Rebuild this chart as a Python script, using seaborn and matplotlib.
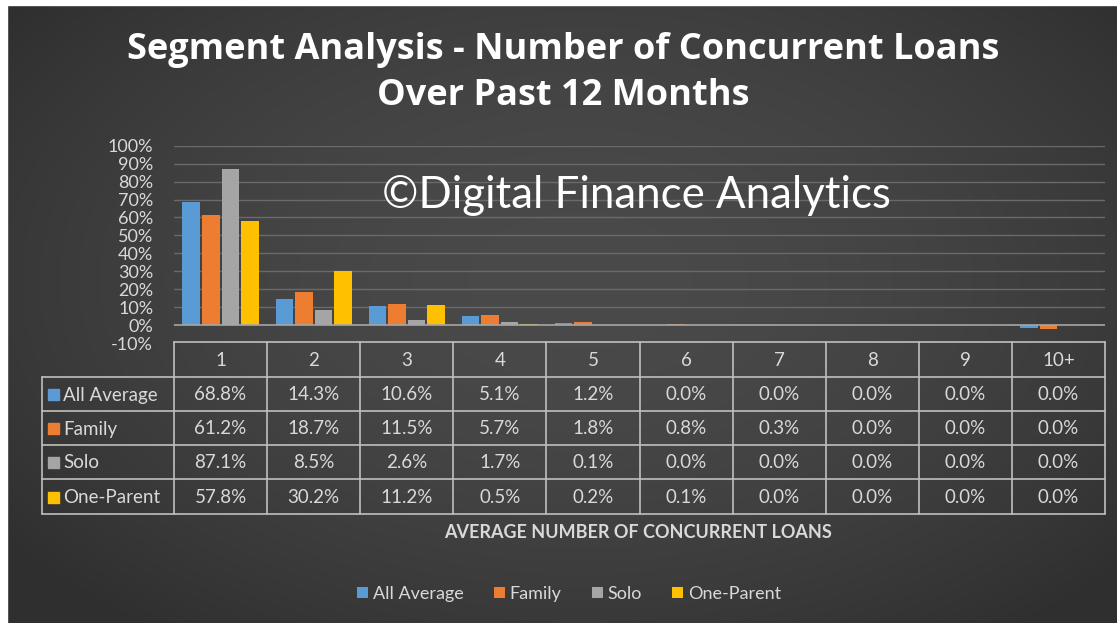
import numpy as np
import pandas as pd
import matplotlib
matplotlib.use("Agg")
import matplotlib.pyplot as plt
import seaborn as sns
from matplotlib.patches import Rectangle

# ---------------- data ----------------
categories = ["1", "2", "3", "4", "5", "6", "7", "8", "9", "10+"]
series = ["All Average", "Family", "Solo", "One-Parent"]
all_average = [0.688, 0.143, 0.106, 0.051, 0.012, 0.000, 0.000, 0.000, 0.000, -0.015]
family      = [0.612, 0.187, 0.115, 0.057, 0.018, 0.008, 0.003, 0.000, 0.000, -0.020]
solo        = [0.871, 0.085, 0.026, 0.017, 0.001, 0.000, 0.000, 0.000, 0.000, 0.000]
one_parent  = [0.578, 0.302, 0.112, 0.005, 0.002, 0.001, 0.000, 0.000, 0.000, 0.000]
colors = ["#5B9BD5", "#ED7D31", "#A5A5A5", "#FFC000"]
y_ticks = [-0.1, 0.0, 0.1, 0.2, 0.3, 0.4, 0.5, 0.6, 0.7, 0.8, 0.9, 1.0]

title = "Segment Analysis - Number of Concurrent Loans\nOver Past 12 Months"
watermark = "©Digital Finance Analytics"
x_title = "AVERAGE NUMBER OF CONCURRENT LOANS"

values = [all_average, family, solo, one_parent]
df = pd.DataFrame({
    "cat": np.tile(categories, len(series)),
    "series": np.repeat(series, len(categories)),
    "value": np.concatenate(values),
})

W, H = 1117, 623
FONT = "Lato"
TXT = "#d9d9d9"

sns.set_theme(style="dark")
plt.rcParams["font.family"] = [FONT, "DejaVu Sans"]

fig = plt.figure(figsize=(W / 100, H / 100), dpi=100)

# background radial gradient
bg = fig.add_axes([0, 0, 1, 1], zorder=0)
yy, xx = np.mgrid[0:H, 0:W]
r = np.sqrt(((xx - 580) / 720.0) ** 2 + ((yy - 280) / 440.0) ** 2)
r = np.clip(r, 0, 1)
g = 0.29 - 0.105 * r ** 1.8
bg.imshow(np.dstack([g, g, g]), extent=(0, W, H, 0), aspect="auto")
bg.add_patch(Rectangle((0, 0), 7, H, color="white"))
bg.add_patch(Rectangle((0, 0), W, 5, color="white"))
bg.set_xlim(0, W); bg.set_ylim(H, 0); bg.axis("off")

# main bar axes
L, R = 174, 1105
T, B = 145.7, 343
ax = fig.add_axes([L / W, 1 - B / H, (R - L) / W, (B - T) / H], zorder=1)
ax.set_facecolor("none")
sns.barplot(data=df, x="cat", y="value", hue="series", hue_order=series,
            order=categories, palette=colors, saturation=1, width=0.84, gap=0.1,
            linewidth=0, edgecolor="none", ax=ax, zorder=3)
ax.set_ylim(-0.1, 1.0)
ax.set_yticks(y_ticks)
ax.set_yticklabels([f"{int(round(t * 100))}%" for t in y_ticks])
ax.tick_params(axis="y", colors=TXT, labelsize=13, pad=15, length=0)
ax.tick_params(axis="x", bottom=False, labelbottom=False)
ax.set_xlabel(""); ax.set_ylabel("")
for s in ax.spines.values():
    s.set_visible(False)
ax.grid(False)
for t in y_ticks:
    if t > 0:
        ax.axhline(t, color="#6a6a6a", lw=1, zorder=1)
ax.axhline(0, color="#a6a6a6", lw=1.2, zorder=4)

sns.move_legend(ax, loc="center", bbox_to_anchor=(569 / W, 1 - 594 / H),
                bbox_transform=fig.transFigure, ncol=4, frameon=False, title=None,
                handlelength=0.6, handleheight=0.6, handletextpad=0.25,
                columnspacing=1.7, labelcolor=TXT, fontsize=13)

# overlay axes for text and table
ov = fig.add_axes([0, 0, 1, 1], zorder=2)
ov.set_facecolor("none")
ov.set_xlim(0, W); ov.set_ylim(H, 0); ov.axis("off")

ov.text(563, 73, title, ha="center", va="center", color="white",
        fontsize=26, fontweight="bold", linespacing=1.4, family=["Open Sans", "DejaVu Sans"])
ov.text(636, 195, watermark, ha="center", va="center", color="white", fontsize=31.5)

# table
LC = "#bfbfbf"
FS = 13.5
colw = (R - L) / len(categories)
row_y = [342, 377, 411, 445, 479, 514]
ov.plot([L, R], [row_y[0], row_y[0]], color=LC, lw=1.2)
for yv in row_y[1:]:
    ov.plot([42, R], [yv, yv], color=LC, lw=1.2)
ov.plot([42, 42], [row_y[1], row_y[-1]], color=LC, lw=1.2)
for k in range(len(categories) + 1):
    xv = L + k * colw
    ov.plot([xv, xv], [row_y[0], row_y[-1]], color=LC, lw=1.2)
for k, c in enumerate(categories):
    ov.text(L + (k + 0.5) * colw, (row_y[0] + row_y[1]) / 2 + 1, c, ha="center",
            va="center", color=TXT, fontsize=FS)
for i, (name, vals) in enumerate(zip(series, values)):
    yc = (row_y[i + 1] + row_y[i + 2]) / 2 + 1
    ov.add_patch(Rectangle((48, yc - 6), 11, 11, color=colors[i]))
    ov.text(63, yc, name, ha="left", va="center", color=TXT, fontsize=FS)
    for k, v in enumerate(vals):
        ov.text(L + (k + 0.5) * colw, yc, f"{max(v, 0) * 100:.1f}%", ha="center",
                va="center", color=TXT, fontsize=FS)

ov.text(638, 532, x_title, ha="center", va="center", color=TXT, fontsize=13,
        fontweight="bold")

fig.savefig("out.png", dpi=100)
